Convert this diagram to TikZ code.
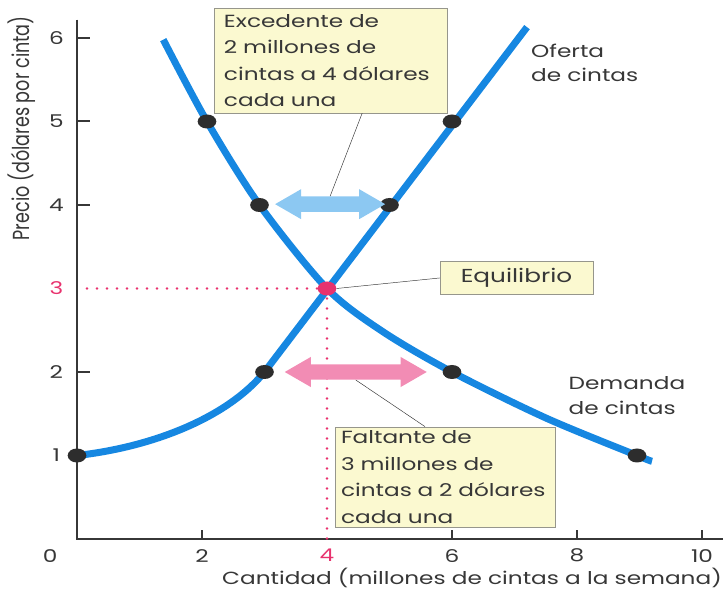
\documentclass[tikz,border=0pt]{standalone}
\usepackage{fontspec}
\setmainfont{Poppins}[FakeStretch=1.32]
\newfontfamily\plainfont{Poppins}
\usetikzlibrary{shapes.arrows, shapes.geometric, positioning}

\definecolor{curva}{RGB}{22,135,225}
\definecolor{punto}{RGB}{45,45,45}
\definecolor{rosa}{RGB}{232,50,110}
\definecolor{caja}{RGB}{251,249,208}
\definecolor{borde}{RGB}{150,150,140}
\definecolor{texto}{RGB}{55,55,55}
\definecolor{azulclaro}{RGB}{140,200,242}
\definecolor{rosaclaro}{RGB}{242,140,180}

\tikzset{
  curve/.style={curva, line width=0.21cm},
  dot/.style={ellipse, fill=punto, inner sep=0pt, minimum width=0.56cm, minimum height=0.42cm},
  axis/.style={draw=texto, line width=0.06cm},
  guide/.style={rosa, line width=0.08cm, line cap=round, dash pattern=on 0pt off 0.3cm},
  callout/.style={draw=borde, fill=caja, text=texto, align=left, inner xsep=0.3cm,
    font=\fontsize{15}{22.6}\selectfont},
  gap/.style={double arrow, draw=none, inner sep=0.225cm,
    double arrow head extend=0.22cm, double arrow tip angle=60},
  lbl/.style={text=texto, font=\fontsize{15}{21}\selectfont}
}

\begin{document}
\begin{tikzpicture}[x=1.875cm, y=2.505cm]
\useasboundingbox (-1.232,-0.683) rectangle (10.4,6.455);

% ejes
\draw[axis] (0,6.22) -- (0,0) -- (10.34,0);
\foreach \y in {1,2,4,5,6}
  \draw[axis] (0,\y) -- ++(0.39cm,0);
\foreach \x in {2,6,8,10}
  \draw[axis] (\x,0) -- ++(0,0.27cm);
\foreach \y in {1,2,4,5,6}
  \node[lbl] at (-0.33,\y) {\y};
\node[lbl, text=rosa] at (-0.33,3) {3};
\foreach \x in {2,6,8,10}
  \node[lbl] at (\x,-0.2) {\x};
\node[lbl, text=rosa] at (4,-0.2) {4};
\node[lbl] at (-0.43,-0.21) {0};
\node[lbl, rotate=90] (ylab) at (-0.88,4.92)
  {\plainfont\scalebox{1}[1.32]{Precio (dólares por cinta)}};
\node[lbl] (xlab) at (6.32,-0.467) {Cantidad (millones de cintas a la semana)};

% equilibrio
\coordinate (e) at (4,3);
\draw[guide] (e) -- (0,3);
\draw[guide] (e) -- (4,0);

% curvas
\draw[curve] (0,1) .. controls (1.2,1.1) and (2.4,1.45) .. (3,2) -- (7.2,6.13);
\draw[curve] plot[smooth, tension=0.5] coordinates
  {(1.38,5.98) (2.08,5) (2.92,4) (4,3) (4.9,2.48) (6,2) (7.5,1.45) (8.96,1) (9.2,0.93)};
\node[dot, fill=rosa] (eq) at (e) {};

\node[dot] (s1) at (0,1) {};
\node[dot] (s2) at (3,2) {};
\node[dot] (s4) at (5,4) {};
\node[dot] (s5) at (6,5) {};
\node[dot] (d5) at (2.08,5) {};
\node[dot] (d4) at (2.92,4) {};
\node[dot] (d2) at (6,2) {};
\node[dot] (d1) at (8.96,1) {};

\node[lbl, anchor=west, align=left, font=\fontsize{15}{20.5}\selectfont] (ofe) at (7.2,5.7) {Oferta\\de cintas};
\node[lbl, anchor=west, align=left] (dem) at (7.8,1.72) {Demanda\\de cintas};

% excedente y faltante
\node[gap, fill=azulclaro, minimum height=3.3cm] (exc) at (4.05,4.01) {};
\node[gap, fill=rosaclaro, minimum height=4.26cm] (fal) at (4.46,2) {};

\node[callout, text width=6.39cm, minimum height=3.15cm] (bexc) at (4.056,5.731)
  {Excedente de\\2 millones de\\cintas a 4 dólares\\cada una};
\node[callout, text width=6.24cm, inner xsep=0.18cm, minimum height=3cm] (bfal) at (5.888,0.742)
  {Faltante de\\3 millones de\\cintas a 2 dólares\\cada una};
\node[callout, align=center, minimum width=4.59cm, minimum height=0.99cm, inner sep=0.1cm,
  font=\fontsize{16}{20}\selectfont] (beq) at (7.032,3.126) {Equilibrio};

\draw[texto, thin] ([xshift=0.95cm]bexc.south) -- (exc.north);
\draw[texto, thin] ([xshift=-0.6cm]bfal.north) -- (fal.south);
\draw[texto, thin] (eq.east) -- (beq.west);
\end{tikzpicture}
\end{document}
